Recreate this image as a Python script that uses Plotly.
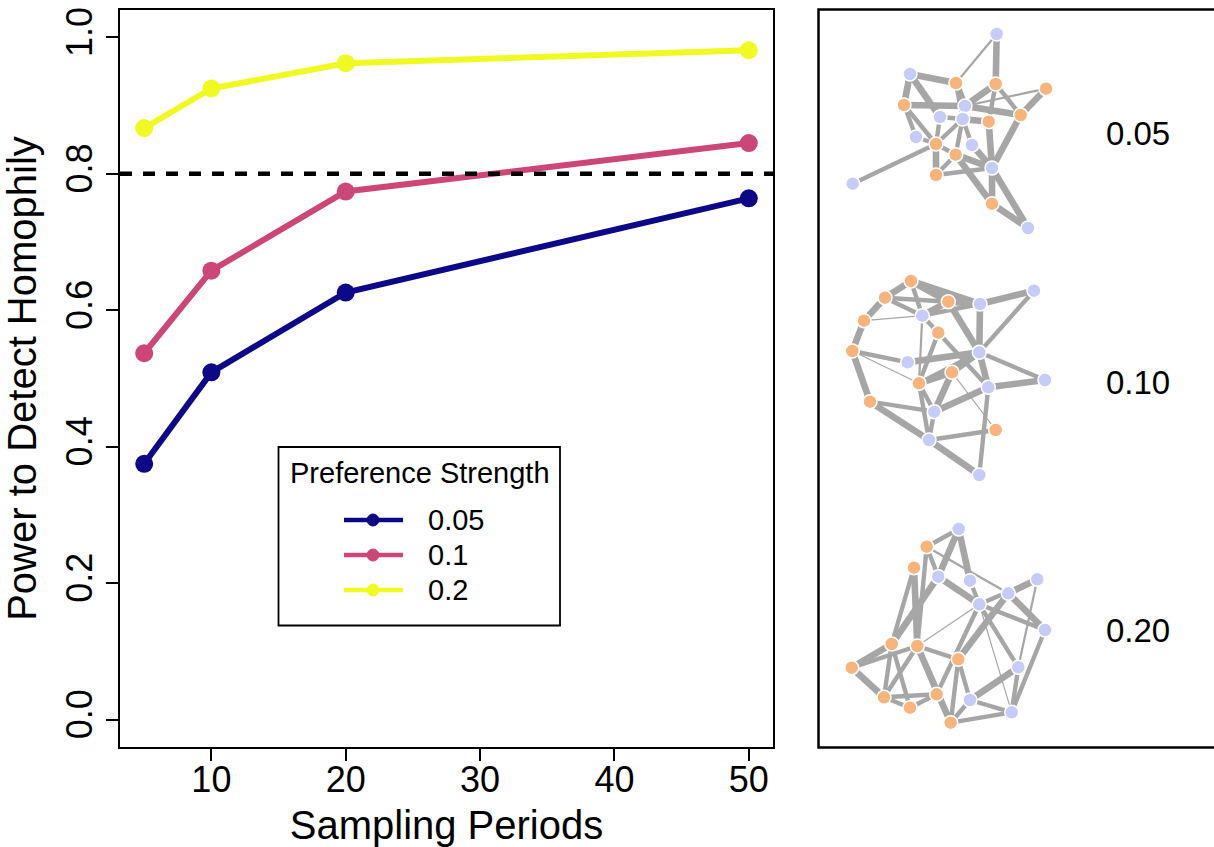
import plotly.graph_objects as go

# ---------------- data: left panel ----------------
sampling_periods = [5, 10, 20, 50]
strength_labels = ["0.05", "0.1", "0.2"]
power_005 = [0.375, 0.509, 0.626, 0.764]
power_010 = [0.537, 0.658, 0.774, 0.845]
power_020 = [0.867, 0.925, 0.962, 0.981]
series_colors = ["#0D0887", "#CC4678", "#F0F921"]
threshold = 0.8
y_ticks = [0.0, 0.2, 0.4, 0.6, 0.8, 1.0]
x_ticks = [10, 20, 30, 40, 50]
legend_title = "Preference Strength"

# ---------------- data: right panel (network layouts) ----------------
net_labels = ["0.05", "0.10", "0.20"]
net_label_x = [1138, 1138, 1138]
net_label_y = [133, 382, 630]

net1_x = [996.7, 910, 965, 940, 962.7, 916, 972, 992, 852.7, 1028,
          956, 995.7, 1046, 904, 1020.7, 988.7, 936, 955.7, 936, 992]
net1_y = [34, 74, 106, 117, 119, 137, 145, 168, 183.7, 228,
          83, 84, 88.7, 105, 115, 121.7, 144, 154.7, 175, 203.7]
net1_group = ["B"] * 10 + ["O"] * 10
net1_edges = [(0, 10, 2), (0, 11, 4), (1, 10, 4), (1, 13, 4), (1, 3, 4), (13, 2, 4), (13, 5, 3),
              (13, 16, 3), (10, 2, 4), (11, 2, 4), (11, 14, 3), (12, 14, 4), (12, 2, 2), (14, 7, 4),
              (2, 14, 4), (4, 15, 4), (3, 16, 3), (3, 4, 3), (16, 8, 3), (16, 18, 4), (16, 17, 3),
              (17, 18, 3), (18, 7, 3), (17, 7, 4), (17, 19, 4), (15, 7, 4), (6, 7, 4), (4, 6, 3),
              (7, 19, 4), (7, 9, 4), (19, 9, 4), (5, 16, 3), (10, 4, 3), (11, 15, 3), (16, 4, 3),
              (2, 17, 3)]

net2_x = [911, 885, 948.3, 864, 938.3, 852.3, 952, 919, 870, 995.7,
          1034, 980, 922.3, 979.3, 907.7, 1045, 988.3, 934.3, 929, 979.3]
net2_y = [281, 297.7, 301.7, 320.7, 332.7, 351, 372.3, 383.3, 401.7, 430,
          290.7, 304, 315.7, 352.3, 362.3, 380, 387.3, 411.7, 440, 475]
net2_group = ["O"] * 10 + ["B"] * 10
net2_edges = [(0, 1, 4), (0, 2, 4), (0, 11, 4), (0, 12, 3), (1, 3, 4), (1, 2, 3), (1, 12, 3),
              (2, 11, 4), (2, 12, 4), (2, 13, 4), (12, 11, 3), (11, 10, 4), (11, 13, 4), (10, 13, 3),
              (3, 5, 4), (3, 12, 1), (5, 8, 4), (5, 14, 3), (5, 7, 1), (12, 7, 2), (4, 7, 3),
              (4, 16, 3), (14, 13, 4), (7, 6, 4), (7, 13, 3), (6, 13, 4), (6, 17, 4), (6, 9, 1),
              (13, 15, 3), (13, 16, 4), (16, 15, 4), (16, 17, 4), (16, 19, 3), (8, 18, 4),
              (8, 17, 3), (7, 17, 3), (7, 18, 3), (17, 18, 3), (18, 9, 3), (18, 19, 4), (12, 4, 3)]

net3_x = [958.7, 938.3, 970, 1037.3, 1008.3, 979.3, 1045, 1018.3, 970, 1011.7,
          926.7, 914, 891.7, 917.3, 958.3, 851.7, 936.7, 884, 910, 950.7]
net3_y = [529, 576.7, 580.7, 579.3, 593.3, 604.3, 630, 667.3, 700, 712.3,
          546.7, 567.7, 644, 646, 659.3, 667.7, 694.3, 697.3, 707.7, 722.7]
net3_group = ["B"] * 10 + ["O"] * 10
net3_edges = [(0, 10, 3), (0, 1, 4), (0, 2, 4), (10, 1, 3), (10, 4, 2), (10, 13, 3), (11, 13, 4),
              (11, 12, 3), (1, 5, 4), (1, 12, 4), (2, 5, 3), (5, 3, 3), (4, 3, 4), (4, 6, 4),
              (4, 14, 4), (3, 7, 2), (5, 6, 3), (5, 13, 1), (5, 7, 3), (5, 9, 1), (5, 16, 3),
              (6, 9, 3), (7, 9, 3), (7, 8, 4), (12, 15, 4), (13, 15, 3), (15, 17, 4), (12, 17, 3),
              (12, 18, 3), (13, 17, 3), (13, 14, 3), (13, 19, 4), (13, 16, 3), (14, 19, 3),
              (14, 8, 3), (17, 16, 3), (18, 16, 3), (17, 18, 3), (19, 8, 3), (19, 9, 3), (8, 9, 3),
              (16, 19, 3)]

# ---------------- styles ----------------
W, H = 1214, 847
FONT = "Liberation Sans, Arial, Helvetica, sans-serif"
EDGE_COLOR = "#A6A6A6"
EDGE_WIDTH = {1: 1.2, 2: 2.2, 3: 4.4, 4: 6.6}
NODE_COLOR = {"B": "#C6CCF6", "O": "#F7B57D"}


def px(x):
    return x / W


def py(y):
    return 1 - y / H


fig = go.Figure()

for vals, lab, col in zip([power_005, power_010, power_020], strength_labels, series_colors):
    fig.add_trace(go.Scatter(x=sampling_periods, y=vals, mode="lines+markers", name=lab,
                             line=dict(color=col, width=6), marker=dict(color=col, size=18),
                             xaxis="x", yaxis="y", showlegend=False))

networks = [(net1_x, net1_y, net1_group, net1_edges),
            (net2_x, net2_y, net2_group, net2_edges),
            (net3_x, net3_y, net3_group, net3_edges)]
for nx, ny, ng, ne in networks:
    for wclass in sorted(EDGE_WIDTH):
        ex, ey = [], []
        for i, j, w in ne:
            if w == wclass:
                ex += [nx[i], nx[j], None]
                ey += [ny[i], ny[j], None]
        if ex:
            fig.add_trace(go.Scatter(x=ex, y=ey, mode="lines", showlegend=False, hoverinfo="skip",
                                     line=dict(color=EDGE_COLOR, width=EDGE_WIDTH[wclass]),
                                     xaxis="x2", yaxis="y2"))
    fig.add_trace(go.Scatter(x=nx, y=ny, mode="markers", showlegend=False,
                             marker=dict(size=14, color=[NODE_COLOR[g] for g in ng],
                                         line=dict(color="white", width=1.5)),
                             xaxis="x2", yaxis="y2"))

for lab, lx, ly in zip(net_labels, net_label_x, net_label_y):
    fig.add_annotation(x=lx, y=ly, xref="x2", yref="y2", text=lab, showarrow=False,
                       font=dict(size=33, color="black", family=FONT))

# threshold line
fig.add_shape(type="line", xref="x domain", yref="y", x0=0, x1=1, y0=threshold, y1=threshold,
              line=dict(color="black", width=4.5, dash="12px,11px"))

# right panel frame (right edge runs off the page)
fig.add_shape(type="rect", xref="paper", yref="paper",
              x0=px(818.5), x1=1.02, y0=py(747.5), y1=py(9.5),
              line=dict(color="black", width=2.5))

# ---------------- legend box (drawn like R's legend) ----------------
fig.add_shape(type="rect", xref="paper", yref="paper",
              x0=px(278.5), x1=px(560), y0=py(625.5), y1=py(447),
              line=dict(color="black", width=1.8), fillcolor="white", layer="above")
fig.add_annotation(x=px(420), y=py(473), xref="paper", yref="paper", text=legend_title,
                   showarrow=False, xanchor="center", yanchor="middle",
                   font=dict(size=29, color="black", family=FONT))
for k, (lab, col) in enumerate(zip(strength_labels, series_colors)):
    yy = py(520 + 35 * k)
    fig.add_shape(type="line", xref="paper", yref="paper", x0=px(344), x1=px(403), y0=yy, y1=yy,
                  line=dict(color=col, width=4.5), layer="above")
    fig.add_shape(type="circle", xref="paper", yref="paper",
                  x0=px(367), x1=px(379), y0=yy - 6 / H, y1=yy + 6 / H,
                  line=dict(color=col, width=1), fillcolor=col, layer="above")
    fig.add_annotation(x=px(426), y=yy, xref="paper", yref="paper", text=lab,
                       showarrow=False, xanchor="left", yanchor="middle",
                       font=dict(size=29, color="black", family=FONT))

axis_common = dict(showline=True, mirror=True, linecolor="black", linewidth=1.5,
                   ticks="outside", ticklen=12, tickwidth=1.5, tickcolor="black",
                   showgrid=False, zeroline=False,
                   tickfont=dict(size=36, color="black", family=FONT))

fig.update_layout(
    width=W, height=H,
    margin=dict(l=0, r=0, t=0, b=0, autoexpand=False),
    plot_bgcolor="white", paper_bgcolor="white",
    font=dict(family=FONT, color="black"),
    showlegend=False,
    xaxis=dict(domain=[px(120), px(773)], range=[3.2, 51.8], tickvals=x_ticks,
               ticklabelstandoff=-12,
               title=dict(text="Sampling Periods", font=dict(size=40), standoff=26),
               **axis_common),
    yaxis=dict(domain=[py(747), py(10)], range=[-0.04, 1.04], tickvals=y_ticks,
               tickformat=".1f", tickangle=-90,
               title=dict(text="Power to Detect Homophily", font=dict(size=40), standoff=11),
               **axis_common),
    xaxis2=dict(domain=[px(818), 1.0], range=[818, 1214], visible=False, anchor="y2"),
    yaxis2=dict(domain=[py(748), py(9)], range=[748, 9], visible=False, anchor="x2"),
)

fig.write_html("out.html", config={"displayModeBar": False},
               post_script="document.body.style.margin='0px';document.body.style.overflow='hidden';")
